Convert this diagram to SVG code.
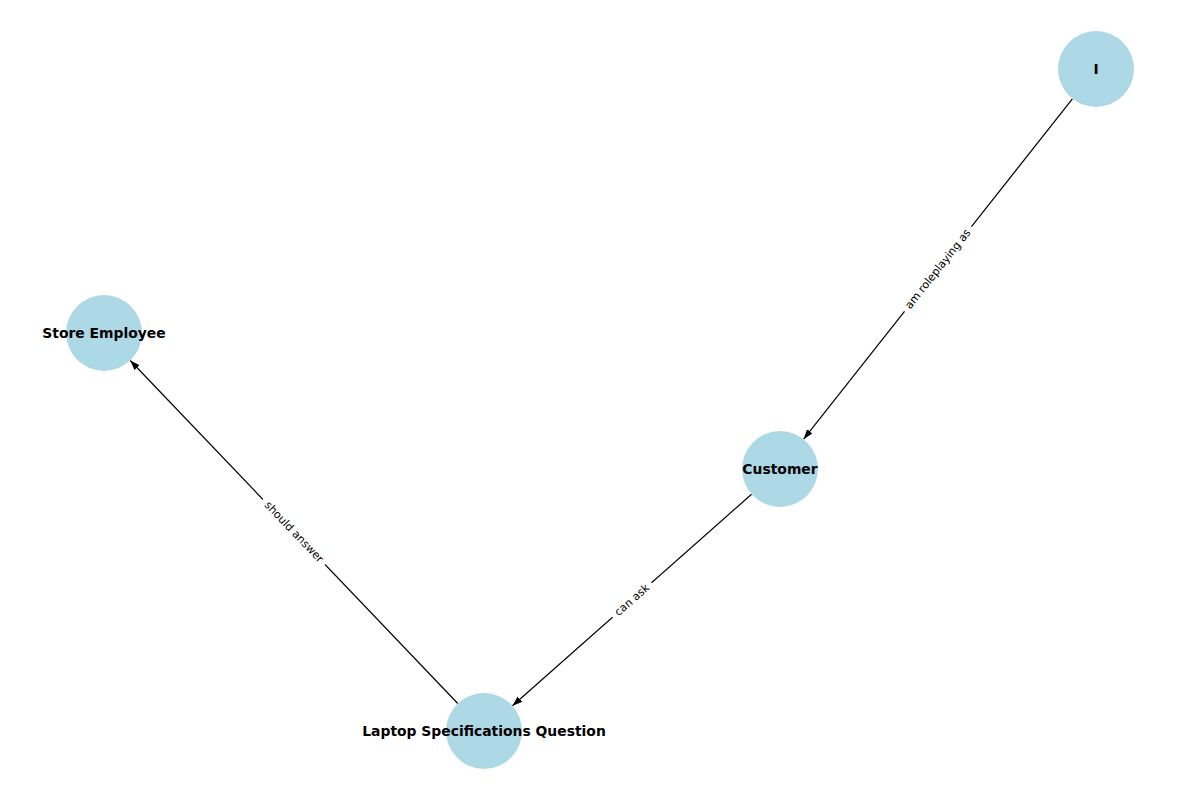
<svg xmlns="http://www.w3.org/2000/svg" width="1200" height="800" viewBox="0 0 1200 800">
  <style>
    .node circle { fill: #add8e6; }
    .node text { font-family: "DejaVu Sans", sans-serif; font-size: 13.9px; font-weight: bold; fill: #000; text-anchor: middle; dominant-baseline: central; }
    .edge line { stroke: #000; stroke-width: 1.2; }
    .elabel rect { fill: #fff; }
    .elabel text { font-family: "DejaVu Sans", sans-serif; font-size: 11px; fill: #000; text-anchor: middle; dominant-baseline: central; }
  </style>
  <defs>
    <marker id="arrow" markerUnits="userSpaceOnUse" markerWidth="10" markerHeight="8" refX="10" refY="3.5" orient="auto">
      <path d="M0,0 L10,3.5 L0,7 z" fill="#000"/>
    </marker>
  </defs>
  <rect width="1200" height="800" fill="#fff"/>

  <!-- connectors -->
  <g id="edges">
    <g class="edge" id="edge-i-customer">
      <line x1="1072.4" y1="98.8" x2="803.6" y2="439.2" marker-end="url(#arrow)"/>
    </g>
    <g class="edge" id="edge-customer-question">
      <line x1="751.6" y1="494.2" x2="512.5" y2="705.8" marker-end="url(#arrow)"/>
    </g>
    <g class="edge" id="edge-question-employee">
      <line x1="457.8" y1="703.5" x2="130.2" y2="360.5" marker-end="url(#arrow)"/>
    </g>
    <g class="elabel" transform="translate(938,269) rotate(-51.7)">
      <rect x="-54" y="-8" width="108" height="16" rx="3"/>
      <text x="0" y="0">am roleplaying as</text>
    </g>
    <g class="elabel" transform="translate(632,600) rotate(-41.5)">
      <rect x="-26" y="-8" width="52" height="16" rx="3"/>
      <text x="0" y="0">can ask</text>
    </g>
    <g class="elabel" transform="translate(294,532) rotate(46.3)">
      <rect x="-45" y="-8" width="90" height="16" rx="3"/>
      <text x="0" y="0">should answer</text>
    </g>
  </g>

  <!-- nodes -->
  <g class="node" id="node-i">
    <circle cx="1096" cy="69" r="38"/>
    <text x="1096" y="69">I</text>
  </g>
  <g class="node" id="node-customer">
    <circle cx="780" cy="469" r="38"/>
    <text x="780" y="469">Customer</text>
  </g>
  <g class="node" id="node-question">
    <circle cx="484" cy="731" r="38"/>
    <text x="484" y="731">Laptop Specifications Question</text>
  </g>
  <g class="node" id="node-employee">
    <circle cx="104" cy="333" r="38"/>
    <text x="104" y="333">Store Employee</text>
  </g>
</svg>
